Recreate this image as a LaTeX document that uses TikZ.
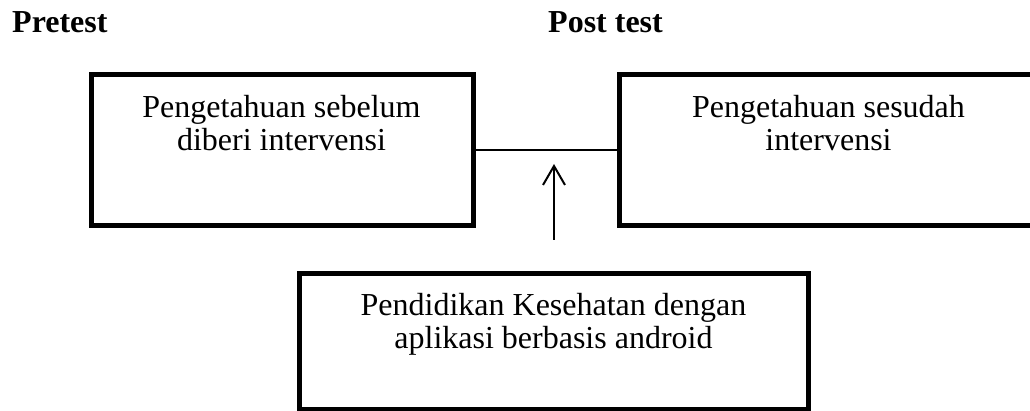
\documentclass[tikz,border=0pt]{standalone}
\usepackage{fontspec}
\setmainfont{Liberation Serif}
\usetikzlibrary{arrows.meta}
\begin{document}
\begin{tikzpicture}[x=1pt,y=-1pt,
  box/.style={draw, line width=5pt, rectangle, inner sep=0pt},
  txt/.style={font=\fontsize{32}{33}\selectfont, align=center, inner sep=0pt, anchor=north},
  ttl/.style={font=\fontsize{32}{33}\selectfont\bfseries, inner sep=0pt, anchor=base west},
  link/.style={line width=1.5pt},
  up/.style={line width=2pt, -{Straight Barb[length=19pt,width=22pt,line width=2pt]}}]
\useasboundingbox (0,0) rectangle (1030,411);
\clip (0,0) rectangle (1030,411);
\fill[white] (0,0) rectangle (1030,411);
\node[ttl] (pretitle) at (12,33) {Pretest};
\node[ttl] (posttitle) at (548,33) {Post test};
\node[box, minimum width=382pt, minimum height=151pt] (pre) at (282.5,150) {};
\node[box, minimum width=418pt, minimum height=151pt] (post) at (828.5,150) {};
\node[box, minimum width=509.5pt, minimum height=135.5pt] (edu) at (553.75,341.25) {};
\node[txt] (pretext) at (281.5,95) {Pengetahuan sebelum\\diberi intervensi};
\node[txt] (posttext) at (828.5,95) {Pengetahuan sesudah\\intervensi};
\node[txt] (edutext) at (553.5,293) {Pendidikan Kesehatan dengan\\aplikasi berbasis android};
\draw[link] (pre.east) -- (post.west);
\coordinate (arrowstart) at (554,240);
\coordinate (arrowend) at (554,164);
\draw[up] (arrowstart) -- (arrowend);
\end{tikzpicture}
\end{document}
